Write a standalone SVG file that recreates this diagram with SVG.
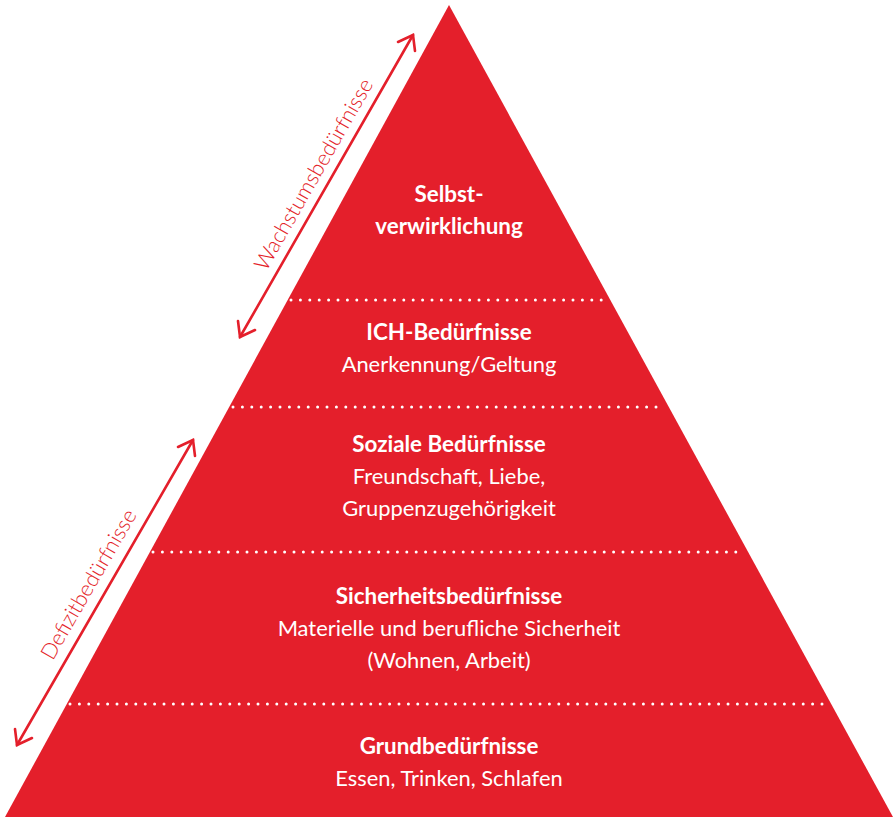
<svg xmlns="http://www.w3.org/2000/svg" width="895" height="817" viewBox="0 0 895 817">
<style>
.t{font-family:Lato,"Open Sans","Liberation Sans",sans-serif;fill:#fff;text-anchor:middle;font-size:21.9px}
.b{font-weight:bold;font-size:22.4px}
.dot{stroke:#fff;stroke-width:3;stroke-linecap:round;stroke-dasharray:0 9.4;fill:none}
.arr{stroke:#e41f2b;stroke-width:2.6;fill:none;stroke-linecap:round}
.lab{font-family:Lato,"Open Sans","Liberation Sans",sans-serif;fill:#e41f2b;font-size:21.6px;font-weight:300;text-anchor:middle}
</style>
<rect width="895" height="817" fill="#fff"/>
<g id="pyramid">
<polygon points="449,5 5,817 893,817" fill="#e41f2b"/>
<line class="dot" x1="291" y1="300" x2="607" y2="300"/>
<line class="dot" x1="233" y1="407" x2="665" y2="407"/>
<line class="dot" x1="153" y1="552" x2="745" y2="552"/>
<line class="dot" x1="70" y1="704" x2="828" y2="704"/>
</g>
<g id="level5"><text class="t b" x="449" y="202">Selbst-</text><text class="t b" x="449" y="234">verwirklichung</text></g>
<g id="level4"><text class="t b" x="449" y="340">ICH-Bedürfnisse</text><text class="t" x="449" y="372">Anerkennung/Geltung</text></g>
<g id="level3"><text class="t b" x="449" y="452">Soziale Bedürfnisse</text><text class="t" x="449" y="484">Freundschaft, Liebe,</text><text class="t" x="449" y="516">Gruppenzugehörigkeit</text></g>
<g id="level2"><text class="t b" x="449" y="604">Sicherheitsbedürfnisse</text><text class="t" x="449" y="636">Materielle und berufliche Sicherheit</text><text class="t" x="449" y="668">(Wohnen, Arbeit)</text></g>
<g id="level1"><text class="t b" x="449" y="754">Grundbedürfnisse</text><text class="t" x="449" y="786">Essen, Trinken, Schlafen</text></g>
<g id="connectors">
<g id="growth-arrow">
<line class="arr" x1="240" y1="337" x2="413" y2="35"/>
<polyline class="arr" points="398,42 413,35 415,51"/>
<polyline class="arr" points="255,330 240,337 238,321"/>
</g>
<g id="deficit-arrow">
<line class="arr" x1="17" y1="745" x2="193" y2="440"/>
<polyline class="arr" points="178,447 193,440 195,456"/>
<polyline class="arr" points="32,738 17,745 15,729"/>
</g>
</g>
<text class="lab" transform="translate(320,178) rotate(-60.2)">Wachstumsbedürfnisse</text>
<text class="lab" transform="translate(95,588) rotate(-60)">Defizitbedürfnisse</text>
</svg>
